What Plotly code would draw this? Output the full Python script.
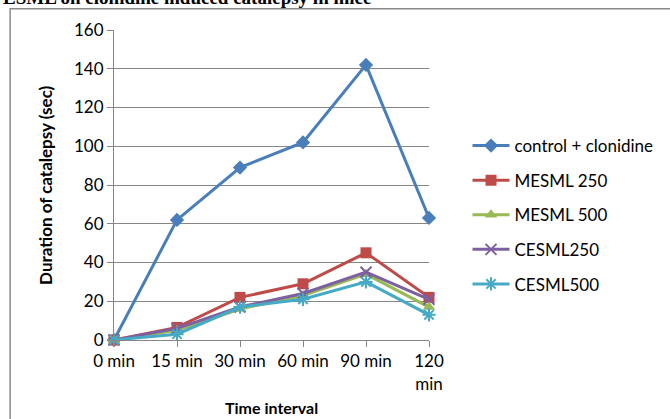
import plotly.graph_objects as go

categories = ["0 min", "15 min", "30 min", "60 min", "90 min", "120 min"]
tick_labels = ["0 min", "15 min", "30 min", "60 min", "90 min", "120<br>min"]

control_clonidine = [0, 62, 89, 102, 142, 63]
mesml_250 = [0, 6.5, 22, 29, 45, 22]
mesml_500 = [0, 5, 16, 23, 34, 17]
cesml_250 = [0, 6, 17, 24, 35, 21]
cesml_500 = [0, 3, 17, 21, 30, 13]

series = [
    ("control + clonidine", control_clonidine, "#4A7EBB", "diamond", 11, None),
    ("MESML 250", mesml_250, "#BE4B48", "square", 11, None),
    ("MESML 500", mesml_500, "#98B954", "triangle-up", 11, None),
    ("CESML250", cesml_250, "#7D60A0", "x-thin-open", 11, 2),
    ("CESML500", cesml_500, "#46AAC5", "asterisk-open", 11, 2),
]

W, H = 670, 419
L, R, T, B = 114, 433, 30, 340

fig = go.Figure()
for i, (name, vals, color, sym, size, lw) in enumerate(series):
    marker = dict(symbol=sym, size=size, color=color)
    if lw:
        marker["line"] = dict(color=color, width=lw)
    fig.add_trace(go.Scatter(
        x=categories, y=vals, name=name, mode="lines+markers",
        line=dict(color=color, width=3), marker=marker,
        cliponaxis=False, legendgroup=f"g{i}",
    ))

font_family = "Lato, 'Open Sans', sans-serif"
axis_color = "#868686"

def px_x(p):
    return (p - L) / (R - L)

def px_y(p):
    return (B - p) / (B - T)

fig.update_layout(
    width=W, height=H,
    margin=dict(l=L, r=W - R, t=T, b=H - B, pad=0),
    paper_bgcolor="white", plot_bgcolor="white",
    font=dict(family=font_family, size=17, color="#000000"),
    showlegend=True,
    legend=dict(
        x=px_x(472), y=px_y(128),
        xanchor="left", yanchor="top",
        font=dict(size=17, family=font_family),
        tracegroupgap=9.5, itemwidth=37, bgcolor="rgba(0,0,0,0)",
    ),
    xaxis=dict(
        type="category", range=[0, 5],
        tickvals=categories, ticktext=tick_labels,
        showgrid=False, showline=True, linecolor=axis_color, linewidth=1,
        ticks="outside", ticklen=6, tickcolor=axis_color,
        tickfont=dict(size=17), zeroline=False,
    ),
    yaxis=dict(
        range=[0, 160], dtick=20,
        showgrid=True, gridcolor=axis_color, gridwidth=1,
        showline=True, linecolor=axis_color, linewidth=1,
        ticks="outside", ticklen=6, tickcolor=axis_color,
        tickfont=dict(size=17), zeroline=False,
    ),
    annotations=[
        dict(text="<b>Duration of catalepsy (sec)</b>", textangle=-90,
             xref="paper", yref="paper",
             x=px_x(44), y=0.5, xanchor="center", yanchor="middle",
             showarrow=False, font=dict(size=17, family=font_family)),
        dict(text="<b>Time interval</b>",
             xref="paper", yref="paper",
             x=0.5, y=px_y(408), xanchor="center", yanchor="middle",
             showarrow=False, font=dict(size=16, family=font_family)),
        dict(text="<b>ESML on clonidine induced catalepsy in mice</b>",
             xref="paper", yref="paper",
             x=px_x(0), y=px_y(10), xanchor="left", yanchor="bottom",
             showarrow=False,
             font=dict(size=19, family="'Liberation Serif', 'Times New Roman', serif")),
    ],
    shapes=[
        dict(type="rect", xref="paper", yref="paper",
             x0=px_x(8.8), x1=px_x(700),
             y0=px_y(440), y1=px_y(8.8),
             line=dict(color="#8a8a8a", width=1.5), fillcolor="rgba(0,0,0,0)",
             layer="above"),
    ],
)

fig.write_html("out.html", config={"displayModeBar": False},
               post_script="document.body.style.margin='0';")
